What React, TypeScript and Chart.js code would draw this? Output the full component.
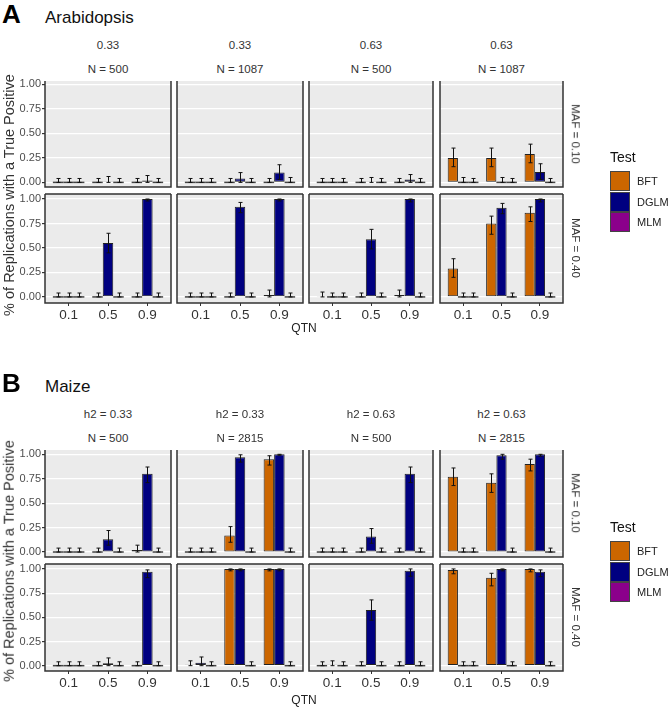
import React, { useEffect, useRef } from "react";
import { Chart, registerables } from "chart.js";
Chart.register(...registerables);

// ---------- categories / labels ----------
const QTN = ["0.1", "0.5", "0.9"];
const TESTS = ["BFT", "DGLM", "MLM"];
const TEST_COLORS = ["#CC6600", "#000080", "#8B008B"];
const ROW_LABELS = ["MAF = 0.10", "MAF = 0.40"];
const ARAB_H2 = ["0.33", "0.33", "0.63", "0.63"];
const ARAB_N = ["N = 500", "N = 1087", "N = 500", "N = 1087"];
const MAIZE_H2 = ["h2 = 0.33", "h2 = 0.33", "h2 = 0.63", "h2 = 0.63"];
const MAIZE_N = ["N = 500", "N = 2815", "N = 500", "N = 2815"];
const Y_TICKS = [0, 0.25, 0.5, 0.75, 1];

// ---------- data: rows = [BFT, DGLM, MLM], columns = QTN 0.1, 0.5, 0.9 ----------
// Arabidopsis, MAF = 0.10
const arabM10P1Mean = [[0, 0, 0], [0, 0.01, 0.02], [0, 0, 0]];
const arabM10P1Lo = [[0, 0, 0], [0, 0, 0], [0, 0, 0]];
const arabM10P1Hi = [[0.04, 0.04, 0.04], [0.04, 0.06, 0.07], [0.04, 0.04, 0.04]];
const arabM10P2Mean = [[0, 0, 0], [0, 0.04, 0.1], [0, 0, 0]];
const arabM10P2Lo = [[0, 0, 0], [0, 0, 0.03], [0, 0, 0]];
const arabM10P2Hi = [[0.04, 0.04, 0.04], [0.04, 0.1, 0.18], [0.04, 0.04, 0.05]];
const arabM10P3Mean = [[0, 0, 0], [0, 0.01, 0.03], [0, 0, 0]];
const arabM10P3Lo = [[0, 0, 0], [0, 0, 0], [0, 0, 0]];
const arabM10P3Hi = [[0.04, 0.04, 0.04], [0.04, 0.05, 0.08], [0.04, 0.04, 0.04]];
const arabM10P4Mean = [[0.25, 0.25, 0.29], [0, 0, 0.105], [0, 0, 0]];
const arabM10P4Lo = [[0.16, 0.16, 0.2], [0, 0, 0.03], [0, 0, 0]];
const arabM10P4Hi = [[0.35, 0.35, 0.39], [0.05, 0.05, 0.19], [0.04, 0.04, 0.04]];
// Arabidopsis, MAF = 0.40
const arabM40P1Mean = [[0, 0, 0], [0, 0.55, 1.0], [0, 0, 0]];
const arabM40P1Lo = [[0, 0, 0], [0, 0.45, 0.98], [0, 0, 0]];
const arabM40P1Hi = [[0.04, 0.04, 0.04], [0.04, 0.65, 1.0], [0.04, 0.04, 0.04]];
const arabM40P2Mean = [[0, 0, 0.02], [0, 0.92, 1.0], [0, 0, 0]];
const arabM40P2Lo = [[0, 0, 0], [0, 0.86, 0.98], [0, 0, 0]];
const arabM40P2Hi = [[0.04, 0.04, 0.07], [0.04, 0.965, 1.0], [0.04, 0.04, 0.04]];
const arabM40P3Mean = [[0.01, 0, 0.02], [0, 0.59, 1.0], [0, 0, 0]];
const arabM40P3Lo = [[0, 0, 0], [0, 0.49, 0.97], [0, 0, 0]];
const arabM40P3Hi = [[0.05, 0.04, 0.07], [0.04, 0.69, 1.0], [0.04, 0.04, 0.04]];
const arabM40P4Mean = [[0.29, 0.75, 0.86], [0, 0.91, 1.0], [0, 0, 0]];
const arabM40P4Lo = [[0.2, 0.64, 0.77], [0, 0.85, 0.97], [0, 0, 0]];
const arabM40P4Hi = [[0.39, 0.825, 0.92], [0.04, 0.955, 1.0], [0.04, 0.04, 0.04]];
// Maize, MAF = 0.10
const maizeM10P1Mean = [[0, 0, 0.02], [0, 0.13, 0.8], [0, 0, 0]];
const maizeM10P1Lo = [[0, 0, 0], [0, 0.07, 0.71], [0, 0, 0]];
const maizeM10P1Hi = [[0.04, 0.04, 0.07], [0.04, 0.22, 0.87], [0.04, 0.04, 0.04]];
const maizeM10P2Mean = [[0, 0.17, 0.95], [0, 0.97, 1.0], [0, 0, 0]];
const maizeM10P2Lo = [[0, 0.1, 0.89], [0, 0.92, 0.99], [0, 0, 0]];
const maizeM10P2Hi = [[0.04, 0.26, 0.985], [0.04, 0.995, 1.0], [0.04, 0.04, 0.04]];
const maizeM10P3Mean = [[0, 0, 0], [0, 0.16, 0.8], [0, 0, 0]];
const maizeM10P3Lo = [[0, 0, 0], [0, 0.09, 0.71], [0, 0, 0]];
const maizeM10P3Hi = [[0.04, 0.04, 0.04], [0.04, 0.24, 0.87], [0.04, 0.04, 0.04]];
const maizeM10P4Mean = [[0.77, 0.71, 0.9], [0, 0.99, 1.0], [0, 0, 0]];
const maizeM10P4Lo = [[0.68, 0.61, 0.83], [0, 0.95, 0.98], [0, 0, 0]];
const maizeM10P4Hi = [[0.86, 0.8, 0.95], [0.04, 1.0, 1.0], [0.04, 0.04, 0.04]];
// Maize, MAF = 0.40
const maizeM40P1Mean = [[0, 0, 0], [0, 0.025, 0.97], [0, 0, 0]];
const maizeM40P1Lo = [[0, 0, 0], [0, 0, 0.91], [0, 0, 0]];
const maizeM40P1Hi = [[0.04, 0.04, 0.04], [0.04, 0.08, 0.99], [0.04, 0.04, 0.04]];
const maizeM40P2Mean = [[0.01, 1.0, 1.0], [0.03, 1.0, 1.0], [0, 0, 0]];
const maizeM40P2Lo = [[0, 0.98, 0.98], [0, 0.98, 0.98], [0, 0, 0]];
const maizeM40P2Hi = [[0.05, 1.0, 1.0], [0.09, 1.0, 1.0], [0.04, 0.04, 0.04]];
const maizeM40P3Mean = [[0, 0, 0], [0.01, 0.575, 0.98], [0, 0, 0]];
const maizeM40P3Lo = [[0, 0, 0], [0, 0.47, 0.925], [0, 0, 0]];
const maizeM40P3Hi = [[0.04, 0.04, 0.04], [0.05, 0.68, 1.0], [0.04, 0.04, 0.04]];
const maizeM40P4Mean = [[0.99, 0.91, 1.0], [0, 1.0, 0.97], [0, 0, 0]];
const maizeM40P4Lo = [[0.95, 0.825, 0.97], [0, 0.98, 0.92], [0, 0, 0]];
const maizeM40P4Hi = [[1.0, 0.955, 1.0], [0.04, 1.0, 0.99], [0.04, 0.04, 0.04]];

// ---------- layout ----------
const FONT = "'Liberation Sans', Arial, sans-serif";
const COLS = [
  { x: 45, w: 126 },
  { x: 177, w: 126 },
  { x: 309, w: 124 },
  { x: 440, w: 123 },
];
const PAD = 10;

type PanelProps = {
  x: number; y: number; w: number; h: number;
  mean: number[][]; lo: number[][]; hi: number[][];
  showY: boolean; showX: boolean; drawTop: boolean;
  yMin: number; yMax: number;
};

const panelPlugin = {
  id: "panelDeco",
  beforeDraw(chart: any) {
    const { ctx, chartArea: a } = chart;
    ctx.save();
    ctx.fillStyle = "#EBEBEB";
    ctx.fillRect(a.left, a.top, a.right - a.left, a.bottom - a.top);
    ctx.restore();
  },
  afterDatasetsDraw(chart: any) {
    const { ctx, chartArea: a } = chart;
    const ys = chart.scales.y;
    ctx.save();
    ctx.beginPath();
    ctx.rect(a.left, a.top, a.right - a.left, a.bottom - a.top);
    ctx.clip();
    const y0 = ys.getPixelForValue(0);
    chart.data.datasets.forEach((ds: any, i: number) => {
      const meta = chart.getDatasetMeta(i);
      meta.data.forEach((bar: any, j: number) => {
        const v = ds.data[j].y;
        const half = bar.width / 2;
        if (v < 0.005) {
          ctx.strokeStyle = "#444";
          ctx.lineWidth = 1.5;
          ctx.beginPath();
          ctx.moveTo(bar.x - half, y0);
          ctx.lineTo(bar.x + half, y0);
          ctx.stroke();
        }
      });
    });
    chart.data.datasets.forEach((ds: any, i: number) => {
      const meta = chart.getDatasetMeta(i);
      meta.data.forEach((bar: any, j: number) => {
        const pl = ys.getPixelForValue(ds.errLo[j]);
        const ph = ys.getPixelForValue(ds.errHi[j]);
        const cx = Math.round(bar.x) + 0.5;
        ctx.strokeStyle = "#111";
        ctx.lineWidth = 1;
        ctx.beginPath();
        ctx.moveTo(cx, pl);
        ctx.lineTo(cx, ph);
        ctx.moveTo(cx - 2, ph);
        ctx.lineTo(cx + 2, ph);
        ctx.moveTo(cx - 2, pl);
        ctx.lineTo(cx + 2, pl);
        ctx.stroke();
      });
    });
    ctx.restore();
  },
  afterDraw(chart: any) {
    const { ctx, chartArea: a } = chart;
    const drawTop = chart.options.plugins.panelDeco.drawTop;
    ctx.save();
    ctx.strokeStyle = "#333";
    ctx.lineWidth = 1.5;
    ctx.beginPath();
    if (drawTop) {
      ctx.moveTo(a.left, a.top);
      ctx.lineTo(a.right, a.top);
    }
    ctx.moveTo(a.right, a.top);
    ctx.lineTo(a.right, a.bottom);
    ctx.lineTo(a.left, a.bottom);
    ctx.lineTo(a.left, a.top);
    ctx.stroke();
    ctx.restore();
  },
};

function Panel(p: PanelProps) {
  const ref = useRef<HTMLCanvasElement>(null);
  const AX = p.showY ? 45 : 0;
  const AXH = p.showX ? 24 : 0;
  const padL = p.showY ? 0 : PAD;
  const padB = p.showX ? 0 : PAD;
  const W = padL + AX + p.w + PAD;
  const H = PAD + p.h + AXH + padB;
  useEffect(() => {
    const chart = new Chart(ref.current as HTMLCanvasElement, {
      type: "bar",
      data: {
        datasets: TESTS.map((t, i) => ({
          label: t,
          data: [1, 2, 3].map((xv, j) => ({ x: xv, y: p.mean[i][j] })),
          errLo: p.lo[i],
          errHi: p.hi[i],
          backgroundColor: TEST_COLORS[i],
          borderColor: "#222",
          borderWidth: 1,
          borderSkipped: false,
          categoryPercentage: 0.8,
          barPercentage: 1,
        })) as any,
      },
      options: {
        responsive: false,
        animation: false,
        layout: { padding: { left: padL, right: PAD, top: PAD, bottom: padB } },
        plugins: {
          legend: { display: false },
          tooltip: { enabled: false },
          panelDeco: { drawTop: p.drawTop },
        } as any,
        scales: {
          x: {
            type: "linear",
            min: 0.4,
            max: 3.6,
            offset: false,
            display: p.showX,
            afterBuildTicks: (s: any) => {
              s.ticks = [1, 2, 3].map((v) => ({ value: v }));
            },
            afterFit: (s: any) => {
              s.height = AXH;
            },
            ticks: {
              callback: (v: any) => QTN[Math.round(Number(v)) - 1],
              font: { family: FONT, size: 13.5 },
              color: "#333",
              padding: 1.5,
              autoSkip: false,
              maxRotation: 0,
            },
            grid: { display: true, offset: false, drawOnChartArea: false, drawTicks: true, tickLength: 3, tickColor: "#333" },
            border: { display: false },
          },
          y: {
            type: "linear",
            min: p.yMin,
            max: p.yMax,
            afterBuildTicks: (s: any) => {
              s.ticks = Y_TICKS.map((v) => ({ value: v }));
            },
            afterFit: (s: any) => {
              s.width = AX;
            },
            ticks: {
              display: p.showY,
              callback: (v: any) => Number(v).toFixed(2),
              font: { family: FONT, size: 11 },
              color: "#4D4D4D",
              padding: 1,
            },
            grid: { color: "#FFFFFF", lineWidth: 1.2, drawTicks: p.showY, tickLength: 3, tickColor: "#333" },
            border: { display: false },
          },
        },
      } as any,
      plugins: [panelPlugin],
    });
    return () => chart.destroy();
  }, []);
  return (
    <canvas
      ref={ref}
      width={W}
      height={H}
      style={{ position: "absolute", left: p.x - AX - padL, top: p.y - PAD, width: W, height: H }}
    />
  );
}

function Txt(props: { x: number; y: number; size: number; children: any; bold?: boolean; rot?: number; color?: string; left?: boolean }) {
  const tx = props.left ? "translate(0,-50%)" : "translate(-50%,-50%)";
  return (
    <div
      style={{
        position: "absolute",
        left: props.x,
        top: props.y,
        transform: tx + (props.rot ? ` rotate(${props.rot}deg)` : ""),
        whiteSpace: "nowrap",
        fontFamily: FONT,
        fontSize: props.size,
        fontWeight: props.bold ? "bold" : "normal",
        color: props.color || "#222",
        lineHeight: 1,
      }}
    >
      {props.children}
    </div>
  );
}

function Legend({ top }: { top: number }) {
  return (
    <>
      <Txt x={610} y={top} size={14} left color="#111">Test</Txt>
      {TESTS.map((t, i) => (
        <React.Fragment key={t}>
          <div
            style={{
              position: "absolute",
              left: 610,
              top: top + 14 + i * 20.5,
              width: 20,
              height: 20,
              background: TEST_COLORS[i],
              border: "1px solid #444",
              boxSizing: "border-box",
            }}
          />
          <Txt x={637} y={top + 24 + i * 20.5} size={11} left color="#222">{t}</Txt>
        </React.Fragment>
      ))}
    </>
  );
}

type Section = {
  letter: string; title: string; letterY: number; titleY: number;
  h2: string[]; n: string[]; h2Y: number; nY: number;
  rows: { y: number; h: number; yMin: number; yMax: number; stripY: number }[];
  panels: { mean: number[][]; lo: number[][]; hi: number[][] }[][];
  yTitleY: number; qtnY: number; legendY: number;
};

const sections: Section[] = [
  {
    letter: "A", title: "Arabidopsis", letterY: 14, titleY: 17,
    h2: ARAB_H2, n: ARAB_N, h2Y: 46, nY: 70,
    rows: [
      { y: 81, h: 106, yMin: -0.047, yMax: 1.034, stripY: 134 },
      { y: 194, h: 109, yMin: -0.062, yMax: 1.051, stripY: 248 },
    ],
    panels: [
      [
        { mean: arabM10P1Mean, lo: arabM10P1Lo, hi: arabM10P1Hi },
        { mean: arabM10P2Mean, lo: arabM10P2Lo, hi: arabM10P2Hi },
        { mean: arabM10P3Mean, lo: arabM10P3Lo, hi: arabM10P3Hi },
        { mean: arabM10P4Mean, lo: arabM10P4Lo, hi: arabM10P4Hi },
      ],
      [
        { mean: arabM40P1Mean, lo: arabM40P1Lo, hi: arabM40P1Hi },
        { mean: arabM40P2Mean, lo: arabM40P2Lo, hi: arabM40P2Hi },
        { mean: arabM40P3Mean, lo: arabM40P3Lo, hi: arabM40P3Hi },
        { mean: arabM40P4Mean, lo: arabM40P4Lo, hi: arabM40P4Hi },
      ],
    ],
    yTitleY: 195, qtnY: 328, legendY: 157,
  },
  {
    letter: "B", title: "Maize", letterY: 383, titleY: 386,
    h2: MAIZE_H2, n: MAIZE_N, h2Y: 415, nY: 439,
    rows: [
      { y: 450, h: 107, yMin: -0.051, yMax: 1.044, stripY: 503 },
      { y: 564, h: 107, yMin: -0.055, yMax: 1.051, stripY: 617 },
    ],
    panels: [
      [
        { mean: maizeM10P1Mean, lo: maizeM10P1Lo, hi: maizeM10P1Hi },
        { mean: maizeM10P2Mean, lo: maizeM10P2Lo, hi: maizeM10P2Hi },
        { mean: maizeM10P3Mean, lo: maizeM10P3Lo, hi: maizeM10P3Hi },
        { mean: maizeM10P4Mean, lo: maizeM10P4Lo, hi: maizeM10P4Hi },
      ],
      [
        { mean: maizeM40P1Mean, lo: maizeM40P1Lo, hi: maizeM40P1Hi },
        { mean: maizeM40P2Mean, lo: maizeM40P2Lo, hi: maizeM40P2Hi },
        { mean: maizeM40P3Mean, lo: maizeM40P3Lo, hi: maizeM40P3Hi },
        { mean: maizeM40P4Mean, lo: maizeM40P4Lo, hi: maizeM40P4Hi },
      ],
    ],
    yTitleY: 561, qtnY: 700, legendY: 527,
  },
];

export default function App() {
  return (
    <div
      style={{
        position: "absolute",
        left: 0,
        top: 0,
        width: 670,
        height: 708,
        overflow: "hidden",
        background: "#FFFFFF",
      }}
    >
      {sections.map((s) => (
        <React.Fragment key={s.letter}>
          <Txt x={2} y={s.letterY} size={26} bold left color="#000">{s.letter}</Txt>
          <Txt x={45} y={s.titleY} size={17} left color="#111">{s.title}</Txt>
          {COLS.map((c, ci) => (
            <React.Fragment key={"strip" + ci}>
              <Txt x={c.x + c.w / 2} y={s.h2Y} size={11.5} color="#333">{s.h2[ci]}</Txt>
              <Txt x={c.x + c.w / 2} y={s.nY} size={11.5} color="#333">{s.n[ci]}</Txt>
            </React.Fragment>
          ))}
          {s.rows.map((r, ri) => (
            <React.Fragment key={"row" + ri}>
              {COLS.map((c, ci) => (
                <Panel
                  key={s.letter + ri + ci}
                  x={c.x}
                  y={r.y}
                  w={c.w}
                  h={r.h}
                  mean={s.panels[ri][ci].mean}
                  lo={s.panels[ri][ci].lo}
                  hi={s.panels[ri][ci].hi}
                  showY={ci === 0}
                  showX={ri === 1}
                  drawTop={ri === 1}
                  yMin={r.yMin}
                  yMax={r.yMax}
                />
              ))}
              <Txt x={575} y={r.stripY} size={11.5} rot={90} color="#333">{ROW_LABELS[ri]}</Txt>
            </React.Fragment>
          ))}
          <Txt x={9} y={s.yTitleY} size={14.5} rot={-90} color="#333">% of Replications with a True Positive</Txt>
          <Txt x={304} y={s.qtnY} size={12} color="#222">QTN</Txt>
          <Legend top={s.legendY} />
        </React.Fragment>
      ))}
    </div>
  );
}
